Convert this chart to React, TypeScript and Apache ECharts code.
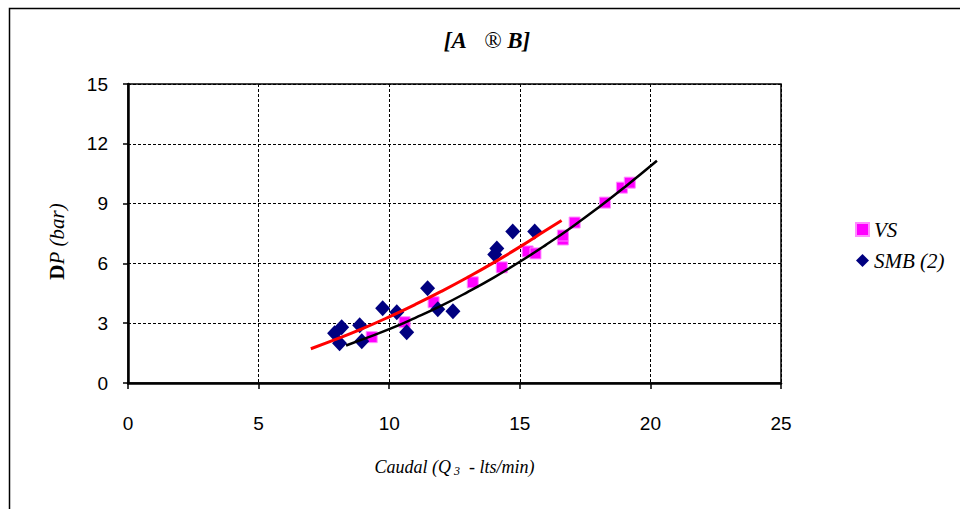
import React, { useEffect, useRef } from "react";
import * as echarts from "echarts";

// Reading of the reference picture
const xTicks = [0, 5, 10, 15, 20, 25];
const yTicks = [0, 3, 6, 9, 12, 15];

const vsX = [9.33, 10.59, 11.7, 13.2, 14.31, 15.3, 15.6, 16.65, 16.65, 17.1, 18.26, 18.91, 19.21];
const vsY = [2.3, 3.05, 4.05, 5.05, 5.8, 6.6, 6.5, 7.2, 7.4, 8.05, 9.05, 9.8, 10.05];

const smbX = [7.91, 8.1, 8.18, 8.87, 8.95, 9.75, 10.29, 10.67, 11.47, 11.86, 12.44, 14.04, 14.12, 14.73, 15.57];
const smbY = [2.5, 2.0, 2.8, 2.9, 2.1, 3.75, 3.55, 2.55, 4.75, 3.7, 3.6, 6.45, 6.75, 7.6, 7.6];

// trend lines
const redX = [7.0, 8, 9, 10, 11, 12, 13, 14, 15, 16, 16.6];
const redY = [1.72, 2.21, 2.74, 3.32, 3.94, 4.6, 5.3, 6.04, 6.83, 7.66, 8.15];
const blackX = [8.35, 9, 10, 11, 12, 13, 14, 15, 16, 17, 18, 19, 20.25];
const blackY = [1.88, 2.2, 2.7, 3.27, 3.88, 4.56, 5.29, 6.08, 6.93, 7.83, 8.79, 9.81, 11.15];

const pairs = (xs: number[], ys: number[]) => xs.map((x, i) => [x, ys[i]]);

const SERIF = "'Liberation Serif', serif";
const SANS = "'Liberation Sans', Arial, sans-serif";

export default function App() {
  const ref = useRef<HTMLDivElement>(null);
  useEffect(() => {
    if (!ref.current) return;
    const chart = echarts.init(ref.current, null, { renderer: "svg" });
    chart.setOption({
      animation: false,
      backgroundColor: "#ffffff",
      textStyle: { fontFamily: SERIF },
      graphic: [
        {
          type: "rect",
          shape: { x: 9.5, y: 8.5, width: 1000, height: 600 },
          style: { fill: "none", stroke: "#000", lineWidth: 1.5 },
          silent: true,
        },
        {
          type: "text",
          x: 487,
          y: 40,
          style: {
            text: "{b|[A}{n|   ® }{b|B]}",
            align: "center",
            verticalAlign: "middle",
            fontFamily: SERIF,
            rich: {
              b: { fontFamily: SERIF, fontStyle: "italic", fontWeight: "bold", fontSize: 23, fill: "#000" },
              n: { fontFamily: SERIF, fontStyle: "italic", fontWeight: "normal", fontSize: 23, fill: "#000" },
            },
          },
        },
      ],
      legend: {
        orient: "vertical",
        left: 850,
        top: 214,
        itemWidth: 13,
        itemHeight: 13,
        itemGap: 10,
        data: ["VS", "SMB (2)"],
        textStyle: { fontFamily: SERIF, fontStyle: "italic", fontSize: 21, color: "#000" },
      },
      grid: {
        left: 128,
        right: 179,
        top: 84,
        bottom: 126,
        show: true,
        borderColor: "#000",
        borderWidth: 1.5,
        backgroundColor: "#fff",
      },
      xAxis: {
        type: "value",
        min: xTicks[0],
        max: xTicks[xTicks.length - 1],
        interval: 5,
        name: "{t|Caudal (Q}{s| 3}{t|  - lts/min)}",
        nameLocation: "middle",
        nameGap: 74,
        nameTextStyle: {
          fontFamily: SERIF,
          fontStyle: "italic",
          rich: {
            t: { fontFamily: SERIF, fontStyle: "italic", fontSize: 18, color: "#000" },
            s: { fontFamily: SERIF, fontStyle: "italic", fontSize: 12, color: "#000", padding: [8, 0, 0, 0] },
          },
        },
        axisLine: { show: true, lineStyle: { color: "#000", width: 2.5 } },
        axisTick: { show: true, length: 6, lineStyle: { color: "#000", width: 1.5 } },
        axisLabel: { margin: 31, fontFamily: SANS, fontSize: 19, color: "#000" },
        splitLine: { show: true, lineStyle: { color: "#000", width: 1, type: [3, 2] } },
      },
      yAxis: {
        type: "value",
        min: yTicks[0],
        max: yTicks[yTicks.length - 1],
        interval: 3,
        name: "{d|D}{p|P}{n| (bar)}",
        nameLocation: "middle",
        nameGap: 61,
        nameTextStyle: {
          fontFamily: SERIF,
          padding: [0, 16, 0, 0],
          rich: {
            d: { fontFamily: SERIF, fontWeight: "bold", fontSize: 21, color: "#000" },
            p: { fontFamily: SERIF, fontStyle: "italic", fontSize: 21, color: "#000" },
            n: { fontFamily: SERIF, fontStyle: "italic", fontSize: 21, color: "#000" },
          },
        },
        axisLine: { show: true, lineStyle: { color: "#000", width: 2.5 } },
        axisTick: { show: true, length: 5, lineStyle: { color: "#000", width: 1.5 } },
        axisLabel: { margin: 20, fontFamily: SANS, fontSize: 19, color: "#000" },
        splitLine: { show: true, lineStyle: { color: "#000", width: 1, type: [3, 2] } },
      },
      series: [
        {
          name: "VS",
          type: "scatter",
          symbol: "rect",
          symbolSize: 11,
          itemStyle: { color: "#ff00ff", borderColor: "#ff8cff", borderWidth: 1, opacity: 1 },
          data: pairs(vsX, vsY),
        },
        {
          name: "SMB (2)",
          type: "scatter",
          symbol: "diamond",
          symbolSize: [15, 16],
          itemStyle: { color: "#000080", opacity: 1 },
          data: pairs(smbX, smbY),
        },
        {
          name: "trend SMB",
          type: "line",
          smooth: true,
          showSymbol: false,
          symbol: "none",
          lineStyle: { color: "#ff0000", width: 3 },
          data: pairs(redX, redY),
        },
        {
          name: "trend VS",
          type: "line",
          smooth: true,
          showSymbol: false,
          symbol: "none",
          lineStyle: { color: "#000000", width: 2.5 },
          data: pairs(blackX, blackY),
        },
      ],
    });
    return () => chart.dispose();
  }, []);
  return (
    <div
      ref={ref}
      style={{ position: "absolute", left: 0, top: 0, width: 960, height: 509 }}
    />
  );
}
